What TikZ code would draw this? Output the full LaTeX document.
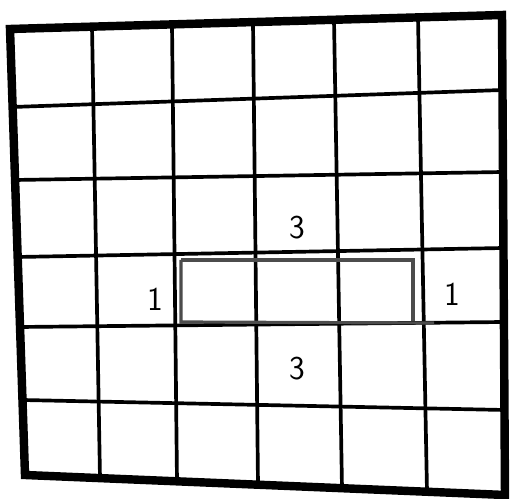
\documentclass[tikz,border=0pt]{standalone}
\usetikzlibrary{calc}
\begin{document}
\begin{tikzpicture}[x=0.02cm,y=-0.02cm,
  gridline/.style={line width=2.1pt,line cap=round},
  border/.style={line width=4.8pt,line join=miter},
  piece/.style={draw=black!70,line width=1.8pt},
  num/.style={font=\fontsize{19}{22}\selectfont\sffamily,inner sep=0pt}]
\useasboundingbox (0,0) rectangle (511,499);
% border points
\foreach \i/\tx/\bx in {0/10/25,1/92/100,2/172/177,3/253/258,4/334/342,5/418/427,6/502/505}{
  \coordinate (T\i) at (\tx,{29-14*\i/6});
  \coordinate (B\i) at (\bx,{475+20*\i/6});
}
\foreach \j/\ly/\ry in {0/29/15,1/107/90,2/180/172,3/257/248,4/327/322,5/400/410,6/475/495}{
  \coordinate (L\j) at ({10+15*\j/6},\ly);
  \coordinate (R\j) at ({502+3*\j/6},\ry);
}
\foreach \i in {1,...,5}{ \draw[gridline] (T\i) -- (B\i); }
\foreach \j in {1,...,5}{ \draw[gridline] (L\j) -- (R\j); }
\draw[border] (T0) -- (T6) -- (B6) -- (B0) -- cycle;
% piece
\coordinate (p1) at (181,260);
\coordinate (p2) at (413,260);
\coordinate (p3) at (413,321);
\coordinate (p4) at (181,322);
\coordinate (p5) at (434,323);
\draw[piece] (p1) -- (p2) -- (p3);
\draw[piece] (p1) -- (p4) -- (p5);
% labels
\node[num] (top3) at (297,228) {3};
\node[num] (bot3) at (297,369) {3};
\node[num] (left1) at (155,299) {1};
\node[num] (right1) at (452,294) {1};
\end{tikzpicture}
\end{document}
